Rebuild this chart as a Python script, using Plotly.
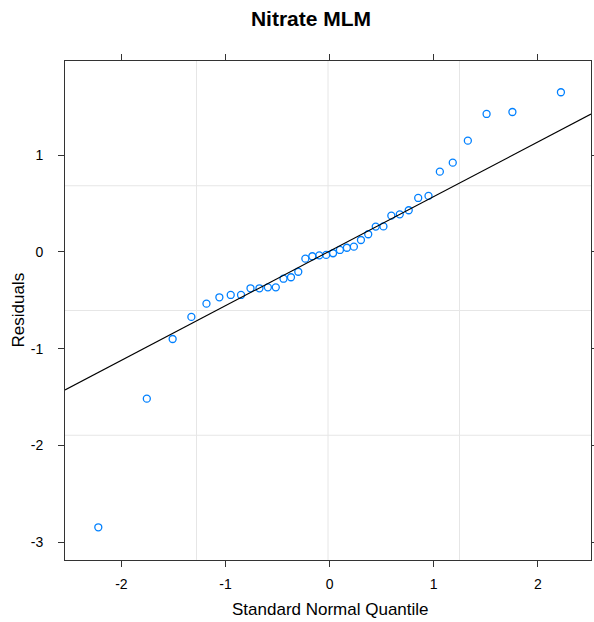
import plotly.graph_objects as go

# Theoretical standard-normal quantiles (x) and sorted residuals (y)
normal_quantile = [-2.222, -1.756, -1.508, -1.328, -1.183, -1.059, -0.950, -0.851,
                   -0.760, -0.674, -0.593, -0.517, -0.443, -0.371, -0.301, -0.233,
                   -0.166, -0.099, -0.033, 0.033, 0.099, 0.166, 0.233, 0.301,
                   0.371, 0.443, 0.517, 0.593, 0.674, 0.760, 0.851, 0.950,
                   1.059, 1.183, 1.328, 1.508, 1.756, 2.222]
residuals = [-2.844, -1.515, -0.899, -0.671, -0.534, -0.468, -0.444, -0.444,
             -0.375, -0.375, -0.365, -0.365, -0.276, -0.261, -0.204, -0.069,
             -0.044, -0.035, -0.030, -0.013, 0.021, 0.044, 0.055, 0.124,
             0.183, 0.262, 0.264, 0.375, 0.389, 0.431, 0.558, 0.579,
             0.830, 0.923, 1.150, 1.426, 1.446, 1.650]

# Reference (qq) line: intercept and slope
qq_intercept = 0.009
qq_slope = 0.564

x_range = [-2.542, 2.511]
y_range = [-3.182, 1.973]
x_ticks = [-2, -1, 0, 1, 2]
y_ticks = [-3, -2, -1, 0, 1]
grid_fracs = [0.25, 0.5, 0.75]

title_text = "Nitrate MLM"
x_title = "Standard Normal Quantile"
y_title = "Residuals"

FONT = "Liberation Sans, Arial, sans-serif"
W, H = 594, 622
ML, MR, MT, MB = 65, 3, 61, 62

fig = go.Figure()

fig.add_trace(go.Scatter(
    x=normal_quantile, y=residuals, mode="markers",
    marker=dict(symbol="circle-open", size=7, color="#0080ff",
                line=dict(width=1.3, color="#0080ff")),
    showlegend=False, hoverinfo="x+y"))

fig.add_trace(go.Scatter(
    x=x_range, y=[qq_intercept + qq_slope * v for v in x_range],
    mode="lines", line=dict(color="black", width=1.1),
    showlegend=False, hoverinfo="skip"))

shapes = []
for f in grid_fracs:
    shapes.append(dict(type="line", xref="x domain", yref="y domain",
                       x0=f, x1=f, y0=0, y1=1, layer="below",
                       line=dict(color="#e6e6e6", width=1)))
    shapes.append(dict(type="line", xref="x domain", yref="y domain",
                       x0=0, x1=1, y0=f, y1=f, layer="below",
                       line=dict(color="#e6e6e6", width=1)))

axis_common = dict(showgrid=False, zeroline=False, showline=True,
                   linecolor="#333333", linewidth=1, mirror="ticks",
                   ticks="outside", ticklen=6, tickwidth=1, tickcolor="#333333",
                   automargin=False,
                   tickfont=dict(family=FONT, size=14, color="black"))

annotations = [
    dict(text=x_title, xref="paper", yref="paper",
         x=(330 - ML) / (W - ML - MR), y=-(609 - (H - MB)) / (H - MT - MB),
         xanchor="center", yanchor="middle", showarrow=False,
         font=dict(family=FONT, size=17, color="black")),
    dict(text=y_title, xref="paper", yref="paper", textangle=-90,
         x=-(ML - 18) / (W - ML - MR), y=0.5,
         xanchor="center", yanchor="middle", showarrow=False,
         font=dict(family=FONT, size=17, color="black")),
]

fig.update_layout(
    width=W, height=H,
    margin=dict(l=ML, r=MR, t=MT, b=MB),
    paper_bgcolor="white", plot_bgcolor="white",
    title=dict(text="<b>" + title_text + "</b>", x=311 / W, xanchor="center",
               y=1 - 19 / H, yanchor="middle",
               font=dict(family=FONT, size=21, color="black")),
    xaxis=dict(range=x_range, tickvals=x_ticks,
               ticktext=[str(v) for v in x_ticks], ticklabelstandoff=5,
               **axis_common),
    yaxis=dict(range=y_range, tickvals=y_ticks,
               ticktext=[str(v) for v in y_ticks], ticklabelstandoff=12,
               **axis_common),
    shapes=shapes,
    annotations=annotations,
)

fig.write_html("out.html", config={"displayModeBar": False},
               post_script="document.body.style.margin='0';document.body.style.overflow='hidden';")
